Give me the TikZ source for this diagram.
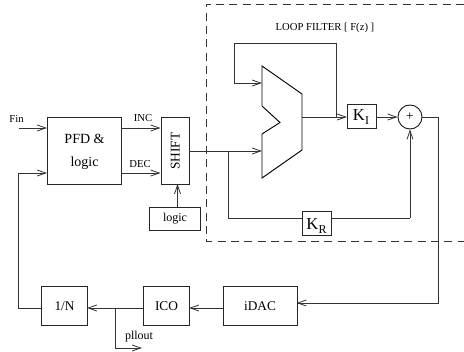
\documentclass[tikz,border=0pt]{standalone}
\usepackage{fontspec}
\setmainfont{Liberation Serif}
\usetikzlibrary{arrows.meta,calc}
\tikzset{
  wire/.style={line width=0.7pt,draw=black!80},
  arr/.style={wire,-{Straight Barb[length=6.5pt,width=4.5pt,line width=0.6pt]}},
  blk/.style={draw=black!85,line width=0.8pt,fill=white,inner sep=0pt,anchor=north west},
  lbl/.style={inner sep=0pt,font=\fontsize{8pt}{9pt}\selectfont},
}
\newcommand{\bx}[6]{\node[blk,minimum width=#4*0.75pt,minimum height=#5*0.75pt] (#1) at (#2,#3) {#6};}
\begin{document}
\begin{tikzpicture}[x=0.75pt,y=-0.75pt]
\useasboundingbox (0,0) rectangle (464,351);
% dashed frame
\coordinate (fa) at (464,4); \coordinate (fb) at (206,4);
\coordinate (fc) at (206,241); \coordinate (fd) at (464,241);
\draw[wire,dashed,dash pattern=on 6pt off 4pt] (fa) -- (fb) -- (fc) -- (fd);
\node[lbl] (title) at (325,28) {LOOP FILTER [ F(z) ]};
% blocks
\bx{pfd}{47}{117}{74}{67}{\fontsize{10.5pt}{16pt}\selectfont\begin{tabular}{@{}c@{}}PFD \&\\[1pt]logic\end{tabular}}
\bx{shift}{160.5}{117}{28.5}{67}{\rotatebox{90}{\fontsize{10pt}{11pt}\selectfont SHIFT}}
\bx{lg}{149}{207}{51}{22.5}{\fontsize{9pt}{10pt}\selectfont logic}
\bx{ki}{347}{104}{29}{24}{}
\node[inner sep=0pt,font=\fontsize{12.5pt}{13pt}\selectfont] (kit) at (361,117) {K\raisebox{-3pt}{\fontsize{9pt}{9pt}\selectfont I}};
\bx{kr}{302}{211}{29}{24}{}
\node[inner sep=0pt,font=\fontsize{12.5pt}{13pt}\selectfont] (krt) at (316.5,226) {K\raisebox{-3pt}{\fontsize{9pt}{9pt}\selectfont R}};
\node[draw=black!90,line width=0.7pt,circle,minimum size=24*0.75pt,inner sep=0pt,font=\fontsize{10pt}{10pt}\selectfont] (sum) at (410,117) {+};
\bx{idac}{222.5}{286}{74}{39}{\fontsize{10pt}{11pt}\selectfont iDAC}
\bx{ico}{143}{286}{46}{39}{\fontsize{10pt}{11pt}\selectfont ICO}
\bx{ndiv}{41}{286}{46}{39}{\fontsize{10pt}{11pt}\selectfont 1/N}
% mux
\coordinate (m1) at (262,66); \coordinate (m2) at (302,94); \coordinate (m3) at (302,150);
\coordinate (m4) at (262,178); \coordinate (m5) at (262,134); \coordinate (m6) at (280,122.5);
\coordinate (m7) at (262,106);
\draw[line width=0.7pt] (m1) -- (m2) -- (m3) -- (m4) -- (m5) -- (m6) -- (m7) -- cycle;
% text labels
\node[lbl] (fin) at (16.5,119) {Fin};
\node[lbl] (inc) at (143,118.5) {INC};
\node[lbl] (dec) at (140,164) {DEC};
\node[lbl,font=\fontsize{9pt}{10pt}\selectfont] (pll) at (139,337) {pllout};
% connectors
\coordinate (finS) at (19,128); \coordinate (pfdA) at (47,128);
\draw[arr] (finS) -- (pfdA);
\coordinate (pfdI) at (121,128); \coordinate (shI) at (160.5,128);
\draw[arr] (pfdI) -- (shI);
\coordinate (pfdD) at (121,173); \coordinate (shD) at (160.5,173);
\draw[arr] (pfdD) -- (shD);
\draw[arr] (lg.north -| 177.5,207) -- (177.5,184);
% shift to mux
\coordinate (shO) at (189,151); \coordinate (mIn) at (262,151); \coordinate (br) at (228.5,151);
\draw[arr] (shO) -- (mIn);
\draw[wire] (br) -- (228.5,218) -- (302,218);
\draw[wire] (331,218) -- (410,218);
\draw[arr] (410,218) -- (sum.south);
% mux output
\coordinate (mO) at (302,117); \coordinate (kiI) at (347,117); \coordinate (fbk) at (336,117);
\draw[arr] (mO) -- (kiI);
\draw[arr] (fbk) -- (336,43) -- (234,43) -- (234,83) -- (262,83);
\draw[arr] (376,117) -- (sum.west);
% sum to iDAC
\draw[arr] (sum.east) -- (438,117) -- (438,303) -- (296.5,303);
\coordinate (idacL) at (222.5,308); \coordinate (icoR) at (189,308);
\draw[arr] (idacL) -- (icoR);
\coordinate (icoL) at (143,308); \coordinate (nR) at (87,308); \coordinate (tap) at (115,308);
\draw[arr] (icoL) -- (nR);
\coordinate (pllE) at (142,348);
\draw[arr] (tap) -- (115,348) -- (pllE);
% feedback
\coordinate (nL) at (41,308); \coordinate (pfdB) at (47,173);
\draw[arr] (nL) -- (18.5,308) -- (18.5,173) -- (pfdB);
\end{tikzpicture}
\end{document}
